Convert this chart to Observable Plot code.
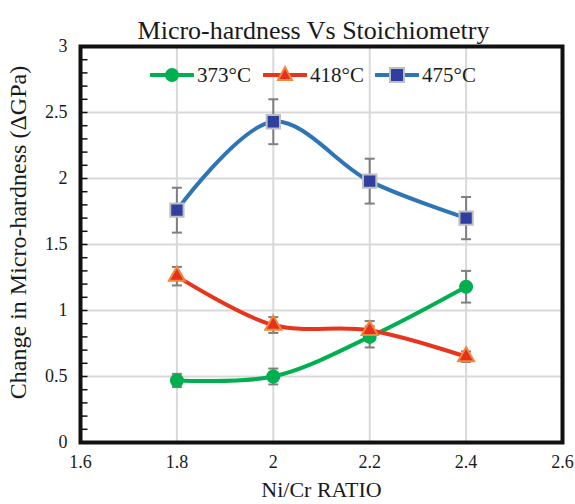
<!DOCTYPE html>
<html>
<head>
<meta charset="utf-8">
<script src="https://cdn.jsdelivr.net/npm/d3@7"></script>
<script src="https://cdn.jsdelivr.net/npm/@observablehq/plot@0.6"></script>
<style>
  body { margin: 0; background: white; }
  #wrap { position: relative; width: 575px; height: 504px; font-family: "Liberation Serif", "Times New Roman", serif; }
  .leg { position: absolute; top: 62px; height: 26px; display: flex; align-items: center; font-size: 21px; color: #1a1a1a; }
  .leg svg { margin-right: 3px; }
</style>
</head>
<body>
<div id="wrap"></div>
<script>
// ---- data ----
const ratios = [1.8, 2.0, 2.2, 2.4];
const series = ["373°C", "418°C", "475°C"];
const h373 = [0.47, 0.50, 0.80, 1.18];
const e373 = [0.05, 0.06, 0.08, 0.12];
const h418 = [1.26, 0.89, 0.85, 0.65];
const e418 = [0.07, 0.06, 0.07, 0.04];
const h475 = [1.76, 2.43, 1.98, 1.70];
const e475 = [0.17, 0.17, 0.17, 0.16];
const xTicks = [1.6, 1.8, 2.0, 2.2, 2.4, 2.6];
const yTicks = [0, 0.5, 1, 1.5, 2, 2.5, 3];
const yMinor = d3.range(0, 31).map(i => i / 10);

const title = "Micro-hardness Vs Stoichiometry";
const xLabel = "Ni/Cr RATIO";
const yLabel = "Change in Micro-hardness (ΔGPa)";

const colors = {"373°C": "#00B050", "418°C": "#E8341C", "475°C": "#2E75B6"};

const rows = [];
[[h373, e373], [h418, e418], [h475, e475]].forEach(([h, e], si) => {
  ratios.forEach((r, i) => rows.push({series: series[si], x: r, y: h[i], lo: h[i] - e[i], hi: h[i] + e[i]}));
});

const cap = { draw(ctx, size) { const w = Math.sqrt(size / Math.PI); ctx.moveTo(-w, 0); ctx.lineTo(w, 0); } };
const inTick = { draw(ctx, size) { const w = Math.sqrt(size / Math.PI); ctx.moveTo(0, 0); ctx.lineTo(w, 0); } };
const F = s => rows.filter(d => d.series === s);

const chart = Plot.plot({
  width: 575,
  height: 504,
  marginLeft: 80,
  marginRight: 13,
  marginTop: 46,
  marginBottom: 62,
  style: {fontFamily: "Liberation Serif", fontSize: "18px", background: "white", color: "#1a1a1a"},
  x: {domain: [1.6, 2.6]},
  y: {domain: [0, 3]},
  marks: [
    Plot.gridX(ratios, {stroke: "#d9d9d9", strokeOpacity: 1, strokeWidth: 2}),
    Plot.gridY(yTicks.slice(1, -1), {stroke: "#d9d9d9", strokeOpacity: 1, strokeWidth: 2}),
    Plot.axisX({ticks: xTicks, tickSize: 0, tickPadding: 13, tickFormat: d3.format("~g"), label: null, fontSize: 18}),
    Plot.axisY({ticks: yTicks, tickSize: 0, tickPadding: 13, tickFormat: d3.format("~g"), label: null, fontSize: 18}),
    Plot.dot(yMinor, {y: d => d, frameAnchor: "left", symbol: inTick, r: 7, stroke: "#111", strokeWidth: 1.5, fill: "none"}),
    Plot.line(rows, {x: "x", y: "y", z: "series", stroke: d => colors[d.series], curve: "catmull-rom", strokeWidth: 4}),
    Plot.ruleX(rows, {x: "x", y1: "lo", y2: "hi", stroke: "#7f7f7f", strokeWidth: 2}),
    Plot.dot(rows, {x: "x", y: "lo", symbol: cap, r: 5, stroke: "#7f7f7f", strokeWidth: 2, fill: "none"}),
    Plot.dot(rows, {x: "x", y: "hi", symbol: cap, r: 5, stroke: "#7f7f7f", strokeWidth: 2, fill: "none"}),
    Plot.dot(F("373°C"), {x: "x", y: "y", symbol: "circle", r: 7, fill: "#00B050", stroke: "none"}),
    Plot.dot(F("418°C"), {x: "x", y: "y", symbol: "triangle", r: 6, fill: "#E3311D", stroke: "#F2883A", strokeWidth: 2}),
    Plot.dot(F("475°C"), {x: "x", y: "y", symbol: "square", r: 7.5, fill: "#2F3F9F", stroke: "#BFBFBF", strokeWidth: 2}),
    Plot.frame({stroke: "#111", strokeWidth: 4}),
    Plot.text([title], {frameAnchor: "top", dy: -26, dx: -8, fontSize: 26, fill: "#1a1a1a"}),
    Plot.text([xLabel], {frameAnchor: "bottom", dy: 54, fontSize: 22, fill: "#1a1a1a"}),
    Plot.text([yLabel], {frameAnchor: "left", textAnchor: "middle", rotate: -90, dx: -62, dy: -12, fontSize: 24, fill: "#1a1a1a"})
  ]
});

const wrap = document.getElementById("wrap");
wrap.appendChild(chart);

// legend
const legPos = [150, 263, 375];
series.forEach((s, i) => {
  const div = document.createElement("div");
  div.className = "leg";
  div.style.left = legPos[i] + "px";
  let marker;
  if (i === 0) marker = `<circle cx="22" cy="13" r="7" fill="#00B050"/>`;
  else if (i === 1) marker = `<path d="M22,5 L29,18 L15,18 Z" fill="#E3311D" stroke="#F2883A" stroke-width="2"/>`;
  else marker = `<rect x="15" y="6" width="14" height="14" fill="#2F3F9F" stroke="#BFBFBF" stroke-width="2"/>`;
  div.innerHTML = `<svg width="44" height="26"><line x1="1" x2="43" y1="13" y2="13" stroke="${colors[s]}" stroke-width="4" stroke-linecap="round"/>${marker}</svg><span>${s}</span>`;
  wrap.appendChild(div);
});
</script>
</body>
</html>
